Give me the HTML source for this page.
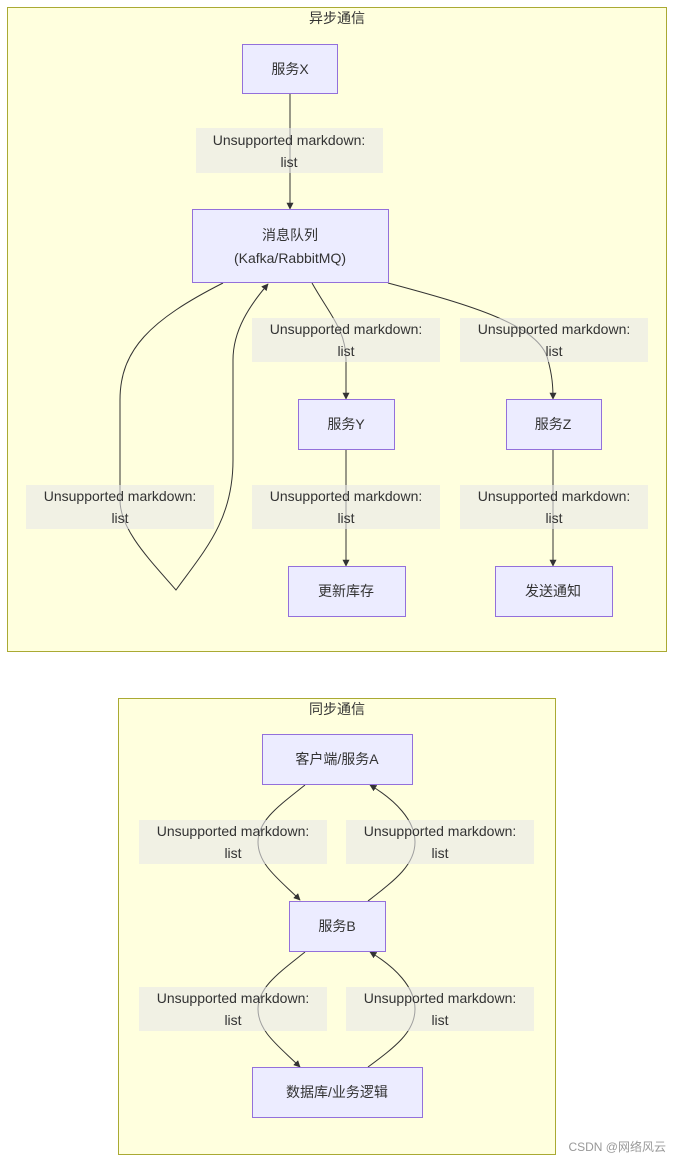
<!DOCTYPE html>
<html><head><meta charset="utf-8"><style>
html,body{margin:0;padding:0;background:#fff;}
svg text{font-family:"Liberation Sans","Noto Sans CJK SC",sans-serif;fill:#333;}
</style></head><body>
<svg width="674" height="1161" viewBox="0 0 674 1161" xmlns="http://www.w3.org/2000/svg">
<defs><marker id="a" viewBox="0 0 10 10" refX="9" refY="5" markerWidth="7" markerHeight="7" orient="auto"><path d="M0,0L10,5L0,10z" fill="#333"/></marker></defs>
<rect x="7.5" y="7.5" width="659" height="644" fill="#ffffde" stroke="#aaaa33"/>
<text x="337" y="23" font-size="14" text-anchor="middle">异步通信</text>
<rect x="118.5" y="698.5" width="437" height="456" fill="#ffffde" stroke="#aaaa33"/>
<text x="337" y="714" font-size="14" text-anchor="middle">同步通信</text>
<g fill="none" stroke="#333" stroke-width="1">
<path d="M290,93V209" marker-end="url(#a)"/>
<path d="M312,283C330,315 346,330 346,360V399" marker-end="url(#a)"/>
<path d="M388,283C470,305 540,325 548,360C552,375 553,385 553,399" marker-end="url(#a)"/>
<path d="M346,449V566" marker-end="url(#a)"/>
<path d="M553,449V566" marker-end="url(#a)"/>
<path d="M223,283C150,320 120,350 120,400V500C120,530 150,560 176,590C205,550 233,520 233,460V360C233,330 250,305 268,284" marker-end="url(#a)"/>
<path d="M305,785C280,805 258,820 258,842C258,865 280,880 300,900" marker-end="url(#a)"/>
<path d="M368,901C395,880 415,865 415,842C415,820 395,800 370,785" marker-end="url(#a)"/>
<path d="M305,952C280,972 258,987 258,1009C258,1032 280,1047 300,1067" marker-end="url(#a)"/>
<path d="M368,1067C395,1047 415,1032 415,1009C415,987 395,967 370,952" marker-end="url(#a)"/>
</g>
<g fill="#ececff" stroke="#9370db">
<rect x="242.5" y="44.5" width="95" height="49"/>
<rect x="192.5" y="209.5" width="196" height="73"/>
<rect x="298.5" y="399.5" width="96" height="50"/>
<rect x="506.5" y="399.5" width="95" height="50"/>
<rect x="288.5" y="566.5" width="117" height="50"/>
<rect x="495.5" y="566.5" width="117" height="50"/>
<rect x="262.5" y="734.5" width="150" height="50"/>
<rect x="289.5" y="901.5" width="96" height="50"/>
<rect x="252.5" y="1067.5" width="170" height="50"/>
</g>
<g font-size="14" text-anchor="middle">
<text x="290" y="74">服务X</text>
<text x="290" y="240">消息队列</text>
<text x="290" y="263">(Kafka/RabbitMQ)</text>
<text x="346" y="429">服务Y</text>
<text x="553" y="429">服务Z</text>
<text x="346" y="596">更新库存</text>
<text x="553" y="596">发送通知</text>
<text x="337" y="764">客户端/服务A</text>
<text x="337" y="931">服务B</text>
<text x="337" y="1097">数据库/业务逻辑</text>
</g>
<g fill="#e8e8e8" fill-opacity="0.6">
<rect x="196" y="128" width="187" height="45"/>
<rect x="252" y="318" width="188" height="44"/>
<rect x="460" y="318" width="188" height="44"/>
<rect x="26" y="485" width="188" height="44"/>
<rect x="252" y="485" width="188" height="44"/>
<rect x="460" y="485" width="188" height="44"/>
<rect x="139" y="820" width="188" height="44"/>
<rect x="346" y="820" width="188" height="44"/>
<rect x="139" y="987" width="188" height="44"/>
<rect x="346" y="987" width="188" height="44"/>
</g>
<g font-size="14" text-anchor="middle">
<text x="289" y="145">Unsupported markdown:</text><text x="289" y="167">list</text>
<text x="346" y="334">Unsupported markdown:</text><text x="346" y="356">list</text>
<text x="554" y="334">Unsupported markdown:</text><text x="554" y="356">list</text>
<text x="120" y="501">Unsupported markdown:</text><text x="120" y="523">list</text>
<text x="346" y="501">Unsupported markdown:</text><text x="346" y="523">list</text>
<text x="554" y="501">Unsupported markdown:</text><text x="554" y="523">list</text>
<text x="233" y="836">Unsupported markdown:</text><text x="233" y="858">list</text>
<text x="440" y="836">Unsupported markdown:</text><text x="440" y="858">list</text>
<text x="233" y="1003">Unsupported markdown:</text><text x="233" y="1025">list</text>
<text x="440" y="1003">Unsupported markdown:</text><text x="440" y="1025">list</text>
</g>
<text x="666" y="1151" font-size="12" text-anchor="end" style="fill:#999">CSDN @网络风云</text>
</svg>
</body></html>
